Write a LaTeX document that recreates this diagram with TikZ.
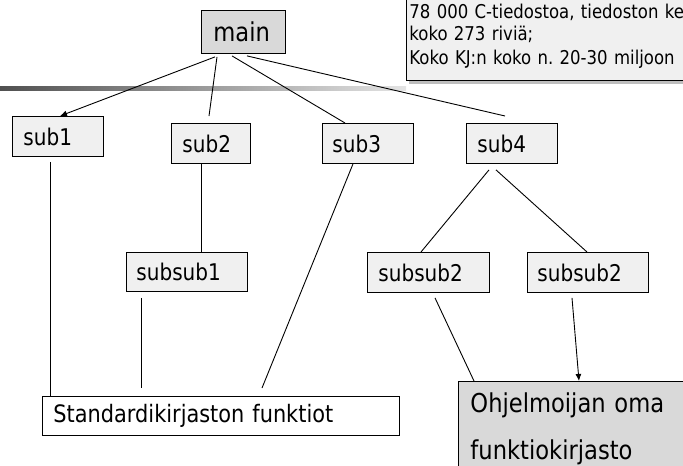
\documentclass[tikz,border=0pt]{standalone}
\usepackage{fontspec}
\setmainfont{DejaVu Sans}[FakeStretch=0.87]
\usetikzlibrary{arrows.meta,calc}
\definecolor{darkfill}{RGB}{217,217,217}
\definecolor{lightfill}{RGB}{240,240,240}
\definecolor{barleft}{RGB}{80,80,80}
\definecolor{barright}{RGB}{228,228,228}
\definecolor{shadowgray}{RGB}{190,190,190}
\tikzset{
  bx/.style={draw=black, line width=0.9pt, fill=lightfill, anchor=north west,
    inner ysep=0pt, minimum height=40pt, align=left, font=\fontsize{23}{27}\selectfont},
  conn/.style={line width=0.9pt, draw=black},
  arr/.style={conn, -{Latex[length=7pt,width=6pt]}}
}
\frenchspacing
\begin{document}
\begin{tikzpicture}[x=1pt,y=-1pt]
\useasboundingbox (0,0) rectangle (683,466);
\clip (0,0) rectangle (683,466);
% gradient bar
\shade[left color=barleft, right color=barright] (0,86) rectangle (406,90);
% info box with shadow
\fill[shadowgray] (409,70) rectangle (700,84);
\node[draw=black, line width=0.9pt, fill=lightfill, anchor=south west, inner xsep=3pt,
  inner ysep=12pt, text width=340pt, align=left, font=\fontsize{19}{22}\selectfont\frenchspacing]
  (info) at (406,81) {78 000 C-tiedostoa, tiedoston ke\\koko 273 riviä;\\[2pt]Koko KJ:n koko n. 20-30 miljoon};
% boxes
\node[bx, fill=darkfill, text width=60pt, inner xsep=12pt, minimum height=43pt,
  font=\fontsize{26}{30}\selectfont] (main) at (201,10) {main};
\node[bx, text width=69pt, inner xsep=11pt] (sub1) at (12,116) {sub1};
\node[bx, text width=57pt, inner xsep=11pt] (sub2) at (171,123) {sub2};
\node[bx, text width=71pt, inner xsep=10pt] (sub3) at (322,123) {sub3};
\node[bx, text width=69pt, inner xsep=11pt] (sub4) at (466,123) {sub4};
\node[bx, text width=101pt, inner xsep=10pt, minimum height=39pt] (subsub1) at (126,252) {subsub1};
\node[bx, text width=100pt, inner xsep=11pt] (subsub2a) at (367,252) {subsub2};
\node[bx, text width=101pt, inner xsep=10pt] (subsub2b) at (527,252) {subsub2};
\node[bx, fill=white, text width=335pt, inner xsep=11pt, minimum height=39pt,
  font=\fontsize{24}{28}\selectfont] (std) at (42,396) {Standardikirjaston funktiot};
\node[bx, fill=darkfill, text width=215pt, inner xsep=12pt, minimum height=95pt,
  font=\fontsize{26}{47}\selectfont] (ohj) at (458,381) {Ohjelmoijan oma\\funktiokirjasto};
% connectors
\draw[arr] ($(main.south west)+(14,3)$) -- ($(sub1.north west)+(48,0)$);
\draw[conn] ($(main.south west)+(16,3)$) -- ($(sub2.north west)+(38,-7)$);
\draw[conn] ($(main.south west)+(31,2)$) -- ($(sub3.north west)+(23,0)$);
\draw[conn] ($(main.south west)+(46,2)$) -- ($(sub4.north west)+(39,-7)$);
\draw[conn] ($(sub1.south west)+(38,5)$) -- ($(std.north west)+(8,0)$);
\draw[conn] ($(sub2.south west)+(30,0)$) -- ($(subsub1.north west)+(75,0)$);
\draw[conn] ($(subsub1.south west)+(15,6)$) -- ($(std.north west)+(99,-8)$);
\draw[conn] ($(sub3.south west)+(31,0)$) -- ($(std.north west)+(220,-8)$);
\draw[conn] ($(sub4.south west)+(23,6)$) -- ($(subsub2a.north west)+(54,0)$);
\draw[conn] ($(sub4.south west)+(30,6)$) -- ($(subsub2b.north west)+(60,0)$);
\draw[conn] ($(subsub2a.south west)+(68,5)$) -- ($(ohj.north west)+(16,0)$);
\draw[arr] ($(subsub2b.south west)+(45,5)$) -- ($(ohj.north west)+(121,0)$);
\end{tikzpicture}
\end{document}
